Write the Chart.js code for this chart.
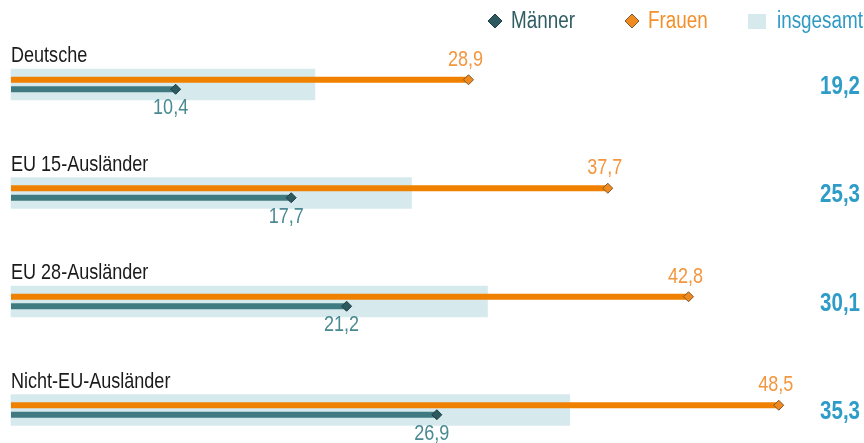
<!DOCTYPE html>
<html>
<head>
<meta charset="utf-8">
<script src="https://cdn.jsdelivr.net/npm/chart.js@4"></script>
<style>
  html, body { margin: 0; padding: 0; background: #fff; }
  #wrap { width: 864px; height: 443px; position: relative; }
</style>
</head>
<body>
<div id="wrap"><canvas id="chart"></canvas></div>
<script>
const categories = ['Deutsche', 'EU 15-Ausländer', 'EU 28-Ausländer', 'Nicht-EU-Ausländer'];
const maenner = [10.4, 17.7, 21.2, 26.9];
const frauen = [28.9, 37.7, 42.8, 48.5];
const insgesamt = [19.2, 25.3, 30.1, 35.3];

const FONT = '"Liberation Sans", Arial, sans-serif';
const NARROW = 0.82; // squeeze text to look like a condensed face
const ORANGE = '#f08000';
const TEAL = '#3e7a80';
const LIGHT = '#d6eaee';

function fmt(v) {
  return v.toFixed(1).replace('.', ',');
}

function text(ctx, str, x, y, align, font, color) {
  ctx.save();
  ctx.translate(x, y);
  ctx.scale(NARROW, 1);
  ctx.font = font;
  ctx.fillStyle = color;
  ctx.textAlign = align;
  ctx.textBaseline = 'alphabetic';
  ctx.fillText(str, 0, 0);
  ctx.restore();
}

function diamond(ctx, x, y, r, fill, stroke) {
  ctx.beginPath();
  ctx.moveTo(x, y - r);
  ctx.lineTo(x + r, y);
  ctx.lineTo(x, y + r);
  ctx.lineTo(x - r, y);
  ctx.closePath();
  ctx.fillStyle = fill;
  ctx.fill();
  ctx.lineWidth = 1;
  ctx.strokeStyle = stroke;
  ctx.stroke();
}

// diamonds, value labels, category names, totals and legend
const overlay = {
  id: 'overlay',
  afterDatasetsDraw(chart) {
    const ctx = chart.ctx;
    const fMeta = chart.getDatasetMeta(0);
    const mMeta = chart.getDatasetMeta(1);
    const tMeta = chart.getDatasetMeta(2);
    ctx.save();

    tMeta.data.forEach((bar, i) => {
      text(ctx, categories[i], chart.chartArea.left, bar.y - bar.height / 2 - 7, 'left', '22px ' + FONT, '#1a1a1a');
      text(ctx, fmt(insgesamt[i]), chart.width - 4, bar.y + 9, 'right', 'bold 25px ' + FONT, '#2e9cc8');
    });

    fMeta.data.forEach((bar, i) => {
      diamond(ctx, bar.x, bar.y, 5, '#f08a1e', '#7a5a32');
      text(ctx, fmt(frauen[i]), bar.x - 3, bar.y - 14, 'center', '22px ' + FONT, '#f3963e');
    });

    mMeta.data.forEach((bar, i) => {
      diamond(ctx, bar.x, bar.y, 5, '#2c5a60', '#1d3d41');
      text(ctx, fmt(maenner[i]), bar.x - 5, bar.y + 25, 'center', '22px ' + FONT, '#4a8a92');
    });

    // legend
    diamond(ctx, 495, 21, 7, '#2c5a60', '#1d3d41');
    text(ctx, 'Männer', 511, 28, 'left', '23px ' + FONT, '#2f5d62');
    diamond(ctx, 632, 21, 7, '#f08a1e', '#7a5a32');
    text(ctx, 'Frauen', 648, 28, 'left', '23px ' + FONT, '#f3902a');
    ctx.fillStyle = LIGHT;
    ctx.fillRect(748, 14, 18, 15);
    text(ctx, 'insgesamt', 777, 28, 'left', '23px ' + FONT, '#2e9ac4');

    ctx.restore();
  }
};

new Chart(document.getElementById('chart'), {
  type: 'bar',
  data: {
    labels: categories,
    datasets: [
      {
        label: 'Frauen',
        data: frauen,
        backgroundColor: ORANGE,
        categoryPercentage: 0.175,
        barPercentage: 0.62,
        clip: false
      },
      {
        label: 'Männer',
        data: maenner,
        backgroundColor: TEAL,
        categoryPercentage: 0.175,
        barPercentage: 0.62,
        clip: false
      },
      {
        label: 'insgesamt',
        data: insgesamt,
        backgroundColor: LIGHT,
        grouped: false,
        barThickness: 31,
        clip: false
      }
    ]
  },
  options: {
    indexAxis: 'y',
    responsive: true,
    maintainAspectRatio: false,
    animation: false,
    layout: { padding: { left: 11, right: 61.5, top: 84.5, bottom: 33 } },
    scales: {
      x: { display: false, min: 0, max: 50 },
      y: { display: false, offset: false }
    },
    plugins: {
      legend: { display: false },
      tooltip: { enabled: false }
    }
  },
  plugins: [overlay]
});
</script>
</body>
</html>
